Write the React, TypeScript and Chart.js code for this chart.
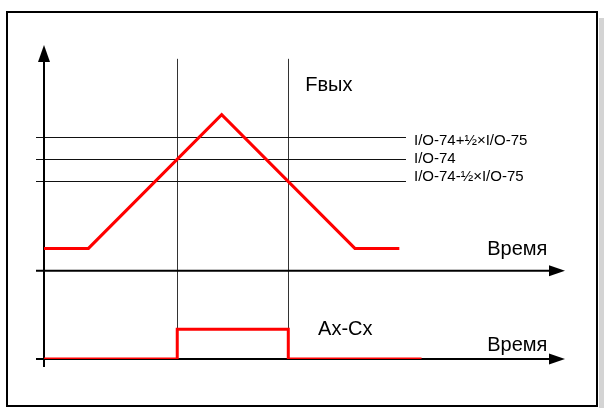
import React, { useEffect, useRef } from "react";
import { Chart, registerables } from "chart.js";

Chart.register(...registerables);

// ---- data (abstract units: time units, frequency units) ----
const foutTimes = [0, 1, 4, 7, 8];
const foutValues = [1, 1, 7, 1, 1];

const axcxTimes = [0, 3, 3, 5.5, 5.5, 8.5];
const axcxValues = [0, 0, 1, 1, 0, 0];

const thresholdLevels = [6, 5, 4];
const thresholdLabels = ["I/O-74+½×I/O-75", "I/O-74", "I/O-74-½×I/O-75"];

const markerTimes = [3, 5.5];

const foutTitle = "Fвых";
const axcxTitle = "Ax-Cx";
const timeTitle = "Время";

const FONT = "'Liberation Sans', Arial, sans-serif";

const diagramPlugin = {
  id: "diagram",
  beforeDraw(chart: any) {
    const ctx = chart.ctx;
    ctx.save();
    ctx.fillStyle = "#ffffff";
    ctx.fillRect(0, 0, chart.width, chart.height);
    // shadow
    ctx.fillStyle = "#d4d4d4";
    ctx.fillRect(599, 18, 5, chart.height - 18);
    // frame
    ctx.strokeStyle = "#000";
    ctx.lineWidth = 2;
    ctx.strokeRect(7, 12, 590, 394);
    ctx.restore();
  },
  beforeDatasetsDraw(chart: any) {
    const ctx = chart.ctx;
    const x = chart.scales.x;
    const y = chart.scales.y;
    const y2 = chart.scales.y2;
    const area = chart.chartArea;
    ctx.save();

    // marker vertical lines
    ctx.strokeStyle = "#333";
    ctx.lineWidth = 1;
    const vTop = y.getPixelForValue(9.5);
    const vBot = y2.getPixelForValue(0);
    markerTimes.forEach((t) => {
      const px = Math.round(x.getPixelForValue(t)) + 0.5;
      ctx.beginPath();
      ctx.moveTo(px, vTop);
      ctx.lineTo(px, vBot);
      ctx.stroke();
    });

    // threshold lines
    ctx.strokeStyle = "#111";
    const tl = x.getPixelForValue(0) - 8;
    const tr = x.getPixelForValue(8.15);
    thresholdLevels.forEach((lv) => {
      const py = Math.round(y.getPixelForValue(lv)) + 0.5;
      ctx.beginPath();
      ctx.moveTo(tl, py);
      ctx.lineTo(tr, py);
      ctx.stroke();
    });

    // axes
    ctx.strokeStyle = "#000";
    ctx.fillStyle = "#000";
    ctx.lineWidth = 2;
    const ax0 = x.getPixelForValue(0);
    // vertical axis
    ctx.beginPath();
    ctx.moveTo(ax0, area.top + 14);
    ctx.lineTo(ax0, y2.getPixelForValue(0) + 8);
    ctx.stroke();
    ctx.beginPath();
    ctx.moveTo(ax0, area.top);
    ctx.lineTo(ax0 - 6, area.top + 17);
    ctx.lineTo(ax0 + 6, area.top + 17);
    ctx.closePath();
    ctx.fill();
    // horizontal axes
    [y.getPixelForValue(0), y2.getPixelForValue(0)].forEach((py) => {
      ctx.beginPath();
      ctx.moveTo(ax0 - 8, py);
      ctx.lineTo(area.right - 14, py);
      ctx.stroke();
      ctx.beginPath();
      ctx.moveTo(area.right, py);
      ctx.lineTo(area.right - 16, py - 5.5);
      ctx.lineTo(area.right - 16, py + 5.5);
      ctx.closePath();
      ctx.fill();
    });

    // texts
    ctx.textAlign = "left";
    ctx.font = `15px ${FONT}`;
    const labelOffsets = [3.5, 0, -4.3];
    const lx = x.getPixelForValue(8.33);
    ctx.textBaseline = "middle";
    thresholdLabels.forEach((lab, i) => {
      ctx.fillText(lab, lx, y.getPixelForValue(thresholdLevels[i]) + labelOffsets[i]);
    });
    ctx.textBaseline = "alphabetic";
    ctx.font = `20px ${FONT}`;
    ctx.fillText(foutTitle, x.getPixelForValue(5.88), 91);
    ctx.fillText(axcxTitle, x.getPixelForValue(6.17), y2.getPixelForValue(0) - 24);
    ctx.fillText(timeTitle, x.getPixelForValue(9.98), y.getPixelForValue(0) - 16);
    ctx.fillText(timeTitle, x.getPixelForValue(9.98), y2.getPixelForValue(0) - 8);
    ctx.restore();
  },
};

export default function App() {
  const ref = useRef<HTMLCanvasElement | null>(null);
  useEffect(() => {
    if (!ref.current) return;
    const chart = new Chart(ref.current, {
      type: "scatter",
      data: {
        datasets: [
          {
            label: foutTitle,
            data: foutTimes.map((t, i) => ({ x: t, y: foutValues[i] })),
            showLine: true,
            borderColor: "#ff0000",
            borderWidth: 3,
            pointRadius: 0,
            yAxisID: "y",
          },
          {
            label: axcxTitle,
            data: axcxTimes.map((t, i) => ({ x: t, y: axcxValues[i] })),
            showLine: true,
            borderColor: "#ff0000",
            borderWidth: 3,
            pointRadius: 0,
            yAxisID: "y2",
          },
        ],
      },
      options: {
        responsive: false,
        animation: false,
        devicePixelRatio: 1,
        layout: { padding: { left: 44, right: 39, top: 45, bottom: 49 } },
        plugins: { legend: { display: false }, tooltip: { enabled: false } },
        scales: {
          x: { type: "linear", min: 0, max: 11.73, display: false },
          y: { type: "linear", min: -3.96, max: 10.12, display: false },
          y2: { type: "linear", min: 0, max: 10.57, display: false },
        },
      },
      plugins: [diagramPlugin],
    });
    return () => chart.destroy();
  }, []);
  return (
    <div style={{ position: "fixed", left: 0, top: 0, width: 604, height: 408 }}>
      <canvas ref={ref} width={604} height={408} style={{ width: 604, height: 408, display: "block" }} />
    </div>
  );
}
